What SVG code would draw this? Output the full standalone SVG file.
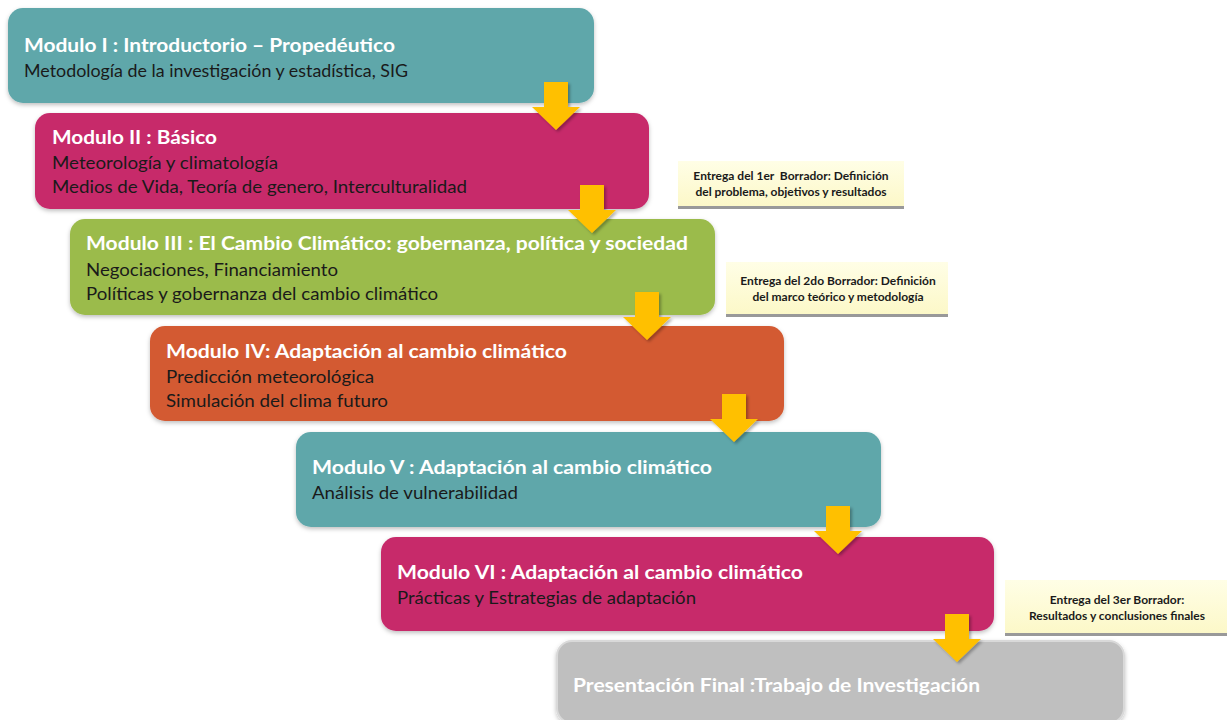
<svg xmlns="http://www.w3.org/2000/svg" width="1227" height="720" viewBox="0 0 1227 720">
<defs>
<filter id="sh" x="-5%" y="-10%" width="110%" height="130%">
<feDropShadow dx="0" dy="2" stdDeviation="2" flood-color="#000" flood-opacity="0.25"/>
</filter>
<filter id="ash" x="-30%" y="-30%" width="160%" height="160%">
<feDropShadow dx="2" dy="2" stdDeviation="1.5" flood-color="#000" flood-opacity="0.3"/>
</filter>
<linearGradient id="ng" x1="0" y1="0" x2="0" y2="1">
<stop offset="0" stop-color="#FFFEE6"/>
<stop offset="1" stop-color="#FCF8C8"/>
</linearGradient>
<path id="arr" d="M-12,0 H12 V25 H24 L0,48 L-24,25 H-12 Z"/>
</defs>
<style>
.box{filter:url(#sh)}
.t{font-family:Lato,"Open Sans","Liberation Sans",sans-serif;font-weight:bold;font-size:19px;fill:#fff}
.s{font-family:Lato,"Open Sans","Liberation Sans",sans-serif;font-size:17px;fill:#1a1a1a}
.n{font-family:Lato,"Liberation Sans",sans-serif;font-weight:bold;font-size:12px;fill:#1a1a1a;text-anchor:middle;white-space:pre}
.note{fill:url(#ng)}
.bar{fill:#999}
.a{fill:#FFC000;filter:url(#ash)}
</style>
<rect width="1227" height="720" fill="#fff"/>

<g id="m1">
<rect class="box" x="8" y="8" width="586" height="95" rx="15" fill="#5FA7AA"/>
<text class="t" x="24" y="52" textLength="371" lengthAdjust="spacingAndGlyphs">Modulo I : Introductorio – Propedéutico</text>
<text class="s" x="24" y="77" textLength="384" lengthAdjust="spacingAndGlyphs">Metodología de la investigación y estadística, SIG</text>
</g>

<g id="m2">
<rect class="box" x="35" y="113" width="614" height="96" rx="15" fill="#C72A6B"/>
<text class="t" x="52" y="144" textLength="165" lengthAdjust="spacingAndGlyphs">Modulo II : Básico</text>
<text class="s" x="52" y="169" textLength="226" lengthAdjust="spacingAndGlyphs">Meteorología y climatología</text>
<text class="s" x="52" y="193" textLength="415" lengthAdjust="spacingAndGlyphs">Medios de Vida, Teoría de genero, Interculturalidad</text>
</g>

<g id="n1">
<rect class="note" x="678" y="161" width="226" height="45"/>
<rect class="bar" x="678" y="206" width="226" height="3"/>
<text class="n" x="791" y="180">Entrega del 1er  Borrador: Definición</text>
<text class="n" x="791" y="196">del problema, objetivos y resultados</text>
</g>

<g id="m3">
<rect class="box" x="70" y="219" width="645" height="96" rx="15" fill="#9BBB4B"/>
<text class="t" x="86" y="250" textLength="602" lengthAdjust="spacingAndGlyphs">Modulo III : El Cambio Climático: gobernanza, política y sociedad</text>
<text class="s" x="86" y="276" textLength="252" lengthAdjust="spacingAndGlyphs">Negociaciones, Financiamiento</text>
<text class="s" x="86" y="300" textLength="352" lengthAdjust="spacingAndGlyphs">Políticas y gobernanza del cambio climático</text>
</g>

<g id="n2">
<rect class="note" x="726" y="262" width="222" height="52"/>
<rect class="bar" x="726" y="314" width="222" height="3"/>
<text class="n" x="838" y="285">Entrega del 2do Borrador: Definición</text>
<text class="n" x="838" y="301">del marco teórico y metodología</text>
</g>

<g id="m4">
<rect class="box" x="150" y="326" width="634" height="95" rx="15" fill="#D35A32"/>
<text class="t" x="166" y="358" textLength="401" lengthAdjust="spacingAndGlyphs">Modulo IV: Adaptación al cambio climático</text>
<text class="s" x="166" y="383" textLength="208" lengthAdjust="spacingAndGlyphs">Predicción meteorológica</text>
<text class="s" x="166" y="407" textLength="222" lengthAdjust="spacingAndGlyphs">Simulación del clima futuro</text>
</g>

<g id="m5">
<rect class="box" x="296" y="432" width="585" height="95" rx="15" fill="#5FA7AA"/>
<text class="t" x="312" y="474" textLength="400" lengthAdjust="spacingAndGlyphs">Modulo V : Adaptación al cambio climático</text>
<text class="s" x="312" y="499" textLength="206" lengthAdjust="spacingAndGlyphs">Análisis de vulnerabilidad</text>
</g>

<g id="m6">
<rect class="box" x="381" y="537" width="613" height="94" rx="15" fill="#C72A6B"/>
<text class="t" x="397" y="579" textLength="406" lengthAdjust="spacingAndGlyphs">Modulo VI : Adaptación al cambio climático</text>
<text class="s" x="397" y="604" textLength="299" lengthAdjust="spacingAndGlyphs">Prácticas y Estrategias de adaptación</text>
</g>

<g id="n3">
<rect class="note" x="1005" y="580" width="222" height="53"/>
<rect class="bar" x="1005" y="633" width="222" height="3"/>
<text class="n" x="1117" y="604">Entrega del 3er Borrador:</text>
<text class="n" x="1117" y="620">Resultados y conclusiones finales</text>
</g>

<g id="m7">
<rect class="box" x="557" y="641" width="567" height="82" rx="15" fill="#BFBFBF" stroke="#D9D9D9" stroke-width="2"/>
<text class="t" x="573" y="692" fill="#F2F2F2" textLength="407" lengthAdjust="spacingAndGlyphs">Presentación Final :Trabajo de Investigación</text>
</g>

<g id="connectors">
<use href="#arr" class="a" transform="translate(556,82)"/>
<use href="#arr" class="a" transform="translate(592,185)"/>
<use href="#arr" class="a" transform="translate(647,292)"/>
<use href="#arr" class="a" transform="translate(734,394)"/>
<use href="#arr" class="a" transform="translate(838,506)"/>
<use href="#arr" class="a" transform="translate(957,614)"/>
</g>
</svg>
